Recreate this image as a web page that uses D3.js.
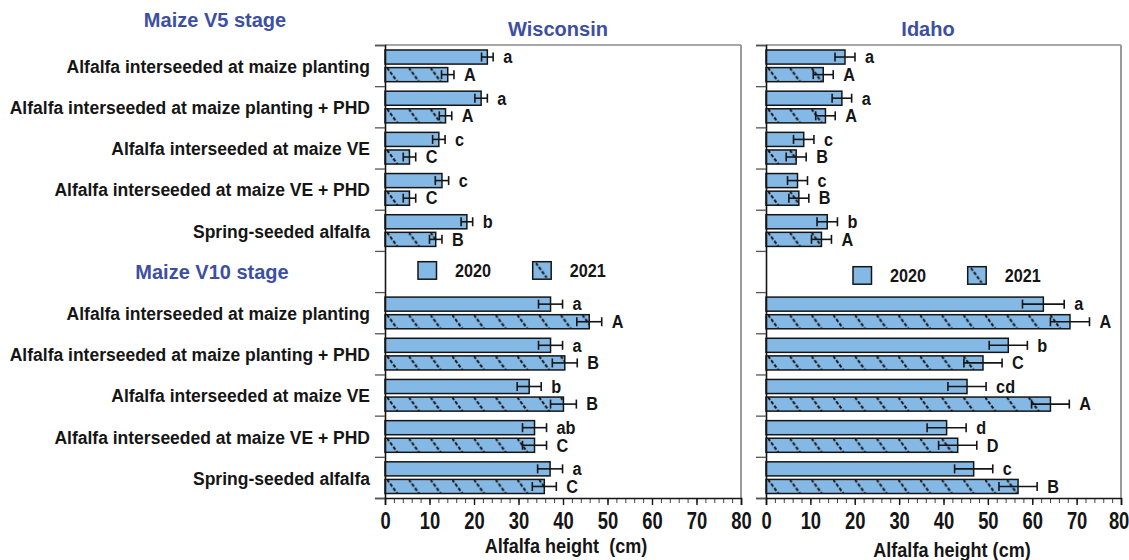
<!DOCTYPE html>
<html><head><meta charset="utf-8">
<script src="https://cdn.jsdelivr.net/npm/d3@7/dist/d3.min.js"></script>
<style>body{margin:0;background:#fff}</style>
</head><body><svg id="c" width="1129" height="560"></svg>
<script>
// ---------- data ----------
const categories = [
  "Alfalfa interseeded at maize planting",
  "Alfalfa interseeded at maize planting + PHD",
  "Alfalfa interseeded at maize VE",
  "Alfalfa interseeded at maize VE + PHD",
  "Spring-seeded alfalfa"
];
const stages = ["Maize V5 stage", "Maize V10 stage"];
const years = ["2020", "2021"];
const sites = ["Wisconsin", "Idaho"];
const xTicks = [0, 10, 20, 30, 40, 50, 60, 70, 80];

// Wisconsin
const wiV5_2020 = [23.0, 21.6, 12.1, 12.8, 18.4];
const wiV5_2020_se = [1.3, 1.4, 1.4, 1.5, 1.3];
const wiV5_2020_let = ["a", "a", "c", "c", "b"];
const wiV5_2021 = [14.1, 13.6, 5.5, 5.5, 11.4];
const wiV5_2021_se = [1.4, 1.4, 1.4, 1.4, 1.4];
const wiV5_2021_let = ["A", "A", "C", "C", "B"];
const wiV10_2020 = [37.2, 37.2, 32.4, 33.6, 37.1];
const wiV10_2020_se = [2.7, 2.7, 2.7, 2.7, 2.8];
const wiV10_2020_let = ["a", "a", "b", "ab", "a"];
const wiV10_2021 = [45.9, 40.4, 40.1, 33.6, 35.8];
const wiV10_2021_se = [2.8, 2.8, 2.9, 2.7, 2.7];
const wiV10_2021_let = ["A", "B", "B", "C", "C"];

// Idaho
const idV5_2020 = [17.8, 17.1, 8.5, 7.1, 13.8];
const idV5_2020_se = [2.25, 2.2, 2.3, 2.25, 2.3];
const idV5_2020_let = ["a", "a", "c", "c", "b"];
const idV5_2021 = [12.9, 13.4, 6.8, 7.4, 12.5];
const idV5_2021_se = [2.25, 2.2, 2.25, 2.25, 2.25];
const idV5_2021_let = ["A", "A", "B", "B", "A"];
const idV10_2020 = [62.5, 54.6, 45.3, 40.7, 46.8];
const idV10_2020_se = [4.7, 4.3, 4.3, 4.4, 4.3];
const idV10_2020_let = ["a", "b", "cd", "d", "c"];
const idV10_2021 = [68.5, 48.9, 64.1, 43.2, 56.8];
const idV10_2021_se = [4.4, 4.3, 4.25, 4.3, 4.3];
const idV10_2021_let = ["A", "C", "A", "D", "B"];

// ---------- drawing ----------
const svg = d3.select('#c');
const defs = svg.append('defs');
const FONT = '"Liberation Sans", Arial, Helvetica, sans-serif';
const BLUE = '#84b8e5';
const TBLUE = '#3d4fa3';
const INK = '#151515';

function txt(g, x, y, s, fs, sx, anchor, fill) {
  return g.append('text')
    .attr('transform', `translate(${x},${y}) scale(${sx},1)`)
    .attr('text-anchor', anchor || 'start')
    .attr('font-family', FONT).attr('font-weight', 'bold')
    .attr('font-size', fs).attr('fill', fill || INK)
    .style('white-space', 'pre').text(s);
}

const Y0 = 45, Y1 = 498;
const yb = d3.scaleLinear().domain([0, 11]).range([Y0, Y1]);
const y = d3.scaleBand().domain(d3.range(11)).range([Y0, Y1]);
const yIn = d3.scaleBand().domain(years).range([5, y.bandwidth() - 4.5]).paddingInner(0.2);

let patId = 0;
function hatch(x0, y0) {
  const id = 'h' + (patId++);
  const p = defs.append('pattern').attr('id', id)
    .attr('patternUnits', 'userSpaceOnUse')
    .attr('width', 21.7).attr('height', 40)
    .attr('patternTransform', `translate(${x0 + 2},${y0})`);
  p.append('line').attr('x1', 0).attr('y1', 0).attr('x2', 11).attr('y2', 15)
    .attr('stroke', INK).attr('stroke-width', 2).attr('stroke-dasharray', '3.5,1.8');
  return `url(#${id})`;
}

const panels = [
  { site: sites[0], range: [385, 741], titleX: 558, legX: 33, legY: 261.7,
    axTitle: "Alfalfa height  (cm)", axTitleX: 566, axTitleY: 553,
    v5: [[wiV5_2020, wiV5_2020_se, wiV5_2020_let], [wiV5_2021, wiV5_2021_se, wiV5_2021_let]],
    v10: [[wiV10_2020, wiV10_2020_se, wiV10_2020_let], [wiV10_2021, wiV10_2021_se, wiV10_2021_let]] },
  { site: sites[1], range: [766, 1121], titleX: 928, legX: 87, legY: 266.7,
    axTitle: "Alfalfa height (cm)", axTitleX: 952, axTitleY: 557,
    v5: [[idV5_2020, idV5_2020_se, idV5_2020_let], [idV5_2021, idV5_2021_se, idV5_2021_let]],
    v10: [[idV10_2020, idV10_2020_se, idV10_2020_let], [idV10_2021, idV10_2021_se, idV10_2021_let]] }
];

panels.forEach((P, pi) => {
  const x = d3.scaleLinear().domain([0, 80]).range(P.range);
  const g = svg.append('g');

  // frame (top & right, grey)
  g.append('line').attr('x1', x(0)).attr('x2', x(80)).attr('y1', Y0).attr('y2', Y0)
    .attr('stroke', '#8a8a8a').attr('stroke-width', 1.6);
  g.append('line').attr('x1', x(80)).attr('x2', x(80)).attr('y1', Y0).attr('y2', Y1)
    .attr('stroke', '#9a9a9a').attr('stroke-width', 2);

  // rows
  const rows = [];
  [[P.v5, 0], [P.v10, 6]].forEach(([set, off]) => {
    set.forEach((ser, yi) => {
      ser[0].forEach((v, i) => rows.push({ slot: off + i, year: years[yi], v, se: ser[1][i], lab: ser[2][i] }));
    });
  });

  rows.forEach(r => {
    const by = y(r.slot) + yIn(r.year), bh = yIn.bandwidth();
    g.append('rect').attr('x', x(0)).attr('y', by).attr('width', x(r.v) - x(0)).attr('height', bh)
      .attr('fill', BLUE);
    if (r.year === '2021') {
      g.append('rect').attr('x', x(0)).attr('y', by).attr('width', x(r.v) - x(0)).attr('height', bh)
        .attr('fill', hatch(x(0), by));
    }
    g.append('rect').attr('x', x(0)).attr('y', by).attr('width', x(r.v) - x(0)).attr('height', bh)
      .attr('fill', 'none').attr('stroke', INK).attr('stroke-width', 1.5);
    const cy = by + bh / 2;
    const eg = g.append('g').attr('stroke', INK).attr('stroke-width', 1.6);
    eg.append('line').attr('x1', x(r.v - r.se)).attr('x2', x(r.v + r.se)).attr('y1', cy).attr('y2', cy);
    [r.v - r.se, r.v + r.se].forEach(e => eg.append('line').attr('x1', x(e)).attr('x2', x(e))
      .attr('y1', cy - 4.5).attr('y2', cy + 4.5));
    txt(g, x(r.v + r.se) + 10, cy + 6.3, r.lab, 17.5, 0.93, 'start');
  });

  // left axis with boundary ticks
  const la = g.append('g').attr('transform', `translate(${x(0)},0)`)
    .call(d3.axisLeft(yb).tickValues(d3.range(12)).tickSize(10).tickFormat(''));
  la.select('.domain').attr('stroke', INK).attr('stroke-width', 1.6);
  la.selectAll('.tick line').attr('stroke', '#555').attr('stroke-width', 1.3);

  // bottom axis
  const minor = g.append('g').attr('transform', `translate(0,${Y1})`)
    .call(d3.axisBottom(x).tickValues(d3.range(0, 81, 2)).tickSize(5).tickFormat(''));
  minor.select('.domain').remove();
  minor.selectAll('.tick line').attr('stroke', '#444').attr('stroke-width', 1);
  const ba = g.append('g').attr('transform', `translate(0,${Y1})`)
    .call(d3.axisBottom(x).tickValues(xTicks).tickSize(7).tickFormat(d3.format('d')));
  ba.select('.domain').attr('stroke', INK).attr('stroke-width', 1.6);
  ba.selectAll('.tick line').attr('stroke', INK).attr('stroke-width', 1.4);
  ba.selectAll('.tick text').attr('y', 14.5).attr('font-family', FONT).attr('font-weight', 'bold')
    .attr('font-size', 23).attr('fill', INK).attr('transform', 'scale(0.8,1)');
  if (pi === 1) {
    ba.selectAll('.tick text').filter(d => d === 80).attr('x', -3);
  }

  // titles
  txt(svg, P.titleX, 36, P.site, 20, 1.0, 'middle', TBLUE);
  txt(svg, P.axTitleX, P.axTitleY, P.axTitle, 21, 0.86, 'middle');

  // legend
  const lx = x(0) + P.legX, ly = P.legY, bs = 18.5;
  years.forEach((yr, k) => {
    const bx = lx + k * 114.7;
    g.append('rect').attr('x', bx).attr('y', ly).attr('width', bs).attr('height', bs - 1).attr('fill', BLUE);
    if (k === 1) {
      g.append('rect').attr('x', bx).attr('y', ly).attr('width', bs).attr('height', bs - 1)
        .attr('fill', hatch(bx + 1, ly + 1));
    }
    g.append('rect').attr('x', bx).attr('y', ly).attr('width', bs).attr('height', bs - 1)
      .attr('fill', 'none').attr('stroke', INK).attr('stroke-width', 1.5);
    txt(g, bx + 37, ly + 15.3, yr, 18, 0.9, 'start');
  });

  // category labels (left panel only)
  if (pi === 0) {
    [0, 6].forEach(off => categories.forEach((c, i) => {
      txt(svg, 370, y(off + i) + y.bandwidth() / 2 + 7.3, c, 17.5, 1.0, 'end');
    }));
  }
});

// stage headers
txt(svg, 215, 27, stages[0], 20, 1.0, 'middle', TBLUE);
txt(svg, 212, 279, stages[1], 20, 1.0, 'middle', TBLUE);
</script>
</body></html>
